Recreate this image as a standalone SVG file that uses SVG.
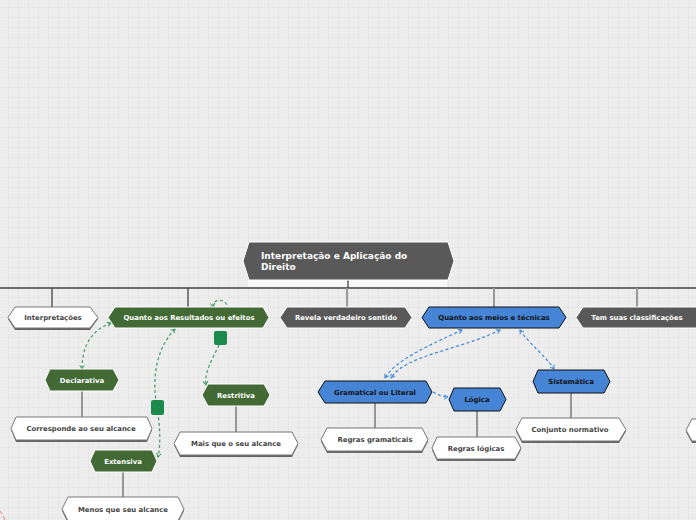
<svg xmlns="http://www.w3.org/2000/svg" width="696" height="520" viewBox="0 0 696 520">
<defs>
<pattern id="grid" x="8" y="7" width="10" height="10" patternUnits="userSpaceOnUse">
<path d="M0 0H10M0 0V10" fill="none" stroke="#e2e2e2" stroke-width="1"/>
</pattern>
<marker id="ag" viewBox="0 0 8 8" refX="6" refY="4" markerWidth="6" markerHeight="6" orient="auto-start-reverse" markerUnits="userSpaceOnUse">
<path d="M1 1L6 4L1 7" fill="none" stroke="#3f9a68" stroke-width="1.3"/>
</marker>
<marker id="ab" viewBox="0 0 8 8" refX="6" refY="4" markerWidth="6" markerHeight="6" orient="auto-start-reverse" markerUnits="userSpaceOnUse">
<path d="M1 1L6 4L1 7" fill="none" stroke="#3a86dc" stroke-width="1.3"/>
</marker>
</defs>
<style>
text{font-family:"DejaVu Sans","Verdana",sans-serif;font-weight:bold;font-size:6.9px;text-anchor:middle}
.w polygon.b{fill:#fff;stroke:#777;stroke-width:1}
.w polygon.s{fill:#666}
.w text{fill:#444}
.g polygon{fill:#436a35;stroke:#fff;stroke-width:1}
.g text{fill:#fff}
.d polygon{fill:#595959;stroke:#fff;stroke-width:1}
.d text{fill:#fff}
.bl polygon{fill:#4684d6;stroke:#111;stroke-width:1}
.bl text{fill:#111}
.tree{fill:none;stroke:#444;stroke-width:1.3}
.tree2{fill:none;stroke:#999;stroke-width:2}
.child{fill:none;stroke:#7a7a7a;stroke-width:1.5}
.gd{fill:none;stroke:#3f9a68;stroke-width:1.2;stroke-dasharray:3 2.5}
.bd{fill:none;stroke:#3a86dc;stroke-width:1.2;stroke-dasharray:3 2.5}
.sq{fill:#1b8a4b}
</style>
<rect width="696" height="520" fill="#ededed"/>
<rect width="696" height="520" fill="url(#grid)"/>
<rect x="248" y="279" width="199" height="8" fill="#f6f6f6"/>

<g id="connectors">
<path class="tree" d="M348 279V288M0 288H696M52 288V307M188 288V307"/>
<path class="tree2" d="M347 288V307M494 288V307M637 288V307"/>
<path class="child" d="M82 391V417M123 472V497M236 406V432M375 403V428M477 411V437M571 393V418"/>
<path class="gd" d="M111 323C92 330 82 345 82 369" marker-start="url(#ag)" marker-end="url(#ag)"/>
<path class="gd" d="M175 329C155 350 152 380 157 407C160 425 161 445 158 457" marker-start="url(#ag)" marker-end="url(#ag)"/>
<path class="gd" d="M213 307C212 298 227 298 227 307" marker-start="url(#ag)"/>
<path class="gd" d="M219 345C212 360 204 372 206 385" marker-end="url(#ag)"/>
<path class="bd" d="M462 330C430 345 395 360 385 378" marker-start="url(#ab)" marker-end="url(#ab)"/>
<path class="bd" d="M500 330C460 350 405 355 391 378" marker-start="url(#ab)" marker-end="url(#ab)"/>
<path class="bd" d="M520 330C530 345 545 355 554 369" marker-start="url(#ab)" marker-end="url(#ab)"/>
<path class="bd" d="M433 392C440 396 444 397 448 397" marker-end="url(#ab)"/>
<path d="M0 511L2 514M3 516L5 520" fill="none" stroke="#e8a090" stroke-width="1.2"/>
<rect class="sq" x="214" y="331" width="13" height="14" rx="2"/>
<rect class="sq" x="151" y="400" width="13" height="15" rx="2"/>
</g>

<g id="root" class="d">
<polygon points="243,261 249,242 448,242 454,261 448,280 249,280"/>
<text x="261" y="259" style="font-size:9px;text-anchor:start">Interpretação e Aplicação do</text>
<text x="261" y="270" style="font-size:9px;text-anchor:start">Direito</text>
</g>

<g id="n-interpretacoes" class="w">
<polygon class="s" points="8,319 15,309 90,309 98,319 90,330 15,330"/>
<polygon class="b" points="8,317.5 15,307 90,307 98,317.5 90,328 15,328"/>
<text x="53" y="320">Interpretações</text>
</g>
<g id="n-resultados" class="g">
<polygon points="108,317.5 115,307 263,307 269,317.5 263,328 115,328"/>
<text x="189" y="320">Quanto aos Resultados ou efeitos</text>
</g>
<g id="n-revela" class="d">
<polygon points="280,317.5 287,307 405,307 412,317.5 405,328 287,328"/>
<text x="346" y="320">Revela verdadeiro sentido</text>
</g>
<g id="n-meios" class="bl">
<polygon points="422,317.5 429,307 559,307 566,317.5 559,328 429,328"/>
<text x="494" y="320">Quanto aos meios e técnicas</text>
</g>
<g id="n-tem" class="d">
<polygon points="576,317.5 583,307 700,307 700,328 583,328"/>
<text x="637" y="320">Tem suas classificações</text>
</g>

<g id="n-declarativa" class="g">
<polygon points="45,380 50,369 113,369 119,380 113,391 50,391"/>
<text x="82" y="382.5">Declarativa</text>
</g>
<g id="n-corresponde" class="w">
<polygon class="s" points="11,430 16,419 147,419 152,430 147,442 16,442"/>
<polygon class="b" points="11,428.5 16,417 147,417 152,428.5 147,440 16,440"/>
<text x="81" y="431">Corresponde ao seu alcance</text>
</g>
<g id="n-extensiva" class="g">
<polygon points="90,461 95,450 152,450 157,461 152,472 95,472"/>
<text x="123" y="463.5">Extensiva</text>
</g>
<g id="n-menos" class="w">
<polygon class="s" points="62,511 68,499 178,499 184,511 178,523 68,523"/>
<polygon class="b" points="62,509 68,497 178,497 184,509 178,521 68,521"/>
<text x="123" y="511.5">Menos que seu alcance</text>
</g>
<g id="n-restritiva" class="g">
<polygon points="202,395 208,384 264,384 270,395 264,406 208,406"/>
<text x="236" y="397.5">Restritiva</text>
</g>
<g id="n-mais" class="w">
<polygon class="s" points="174,445 180,434 292,434 298,445 292,457 180,457"/>
<polygon class="b" points="174,443.5 180,432 292,432 298,443.5 292,455 180,455"/>
<text x="236" y="446">Mais que o  seu alcance</text>
</g>

<g id="n-gramatical" class="bl">
<polygon points="318,392 325,381 426,381 432,392 426,403 325,403"/>
<text x="375" y="394.5">Gramatical ou Literal</text>
</g>
<g id="n-regras-gramaticais" class="w">
<polygon class="s" points="321,441.5 327,430 422,430 428,441.5 422,453 327,453"/>
<polygon class="b" points="321,439.5 327,428 422,428 428,439.5 422,451 327,451"/>
<text x="375" y="442">Regras gramaticais</text>
</g>
<g id="n-logica" class="bl">
<polygon points="449,399.5 454,388 500,388 506,399.5 500,411 454,411"/>
<text x="477" y="402">Lógica</text>
</g>
<g id="n-regras-logicas" class="w">
<polygon class="s" points="432,450 437,439 515,439 521,450 515,461 437,461"/>
<polygon class="b" points="432,448 437,437 515,437 521,448 515,459 437,459"/>
<text x="476" y="450.5">Regras lógicas</text>
</g>
<g id="n-sistematica" class="bl">
<polygon points="533,381.5 538,370 604,370 610,381.5 604,393 538,393"/>
<text x="571" y="384">Sistemática</text>
</g>
<g id="n-conjunto" class="w">
<polygon class="s" points="516,431.5 522,420 619,420 626,431.5 619,443 522,443"/>
<polygon class="b" points="516,429.5 522,418 619,418 626,429.5 619,441 522,441"/>
<text x="570" y="432">Conjunto normativo</text>
</g>
<g id="n-partial" class="w">
<polygon class="s" points="686,432 692,421 700,421 700,443 692,443"/>
<polygon class="b" points="686,430 692,419 700,419 700,441 692,441"/>
</g>
</svg>
